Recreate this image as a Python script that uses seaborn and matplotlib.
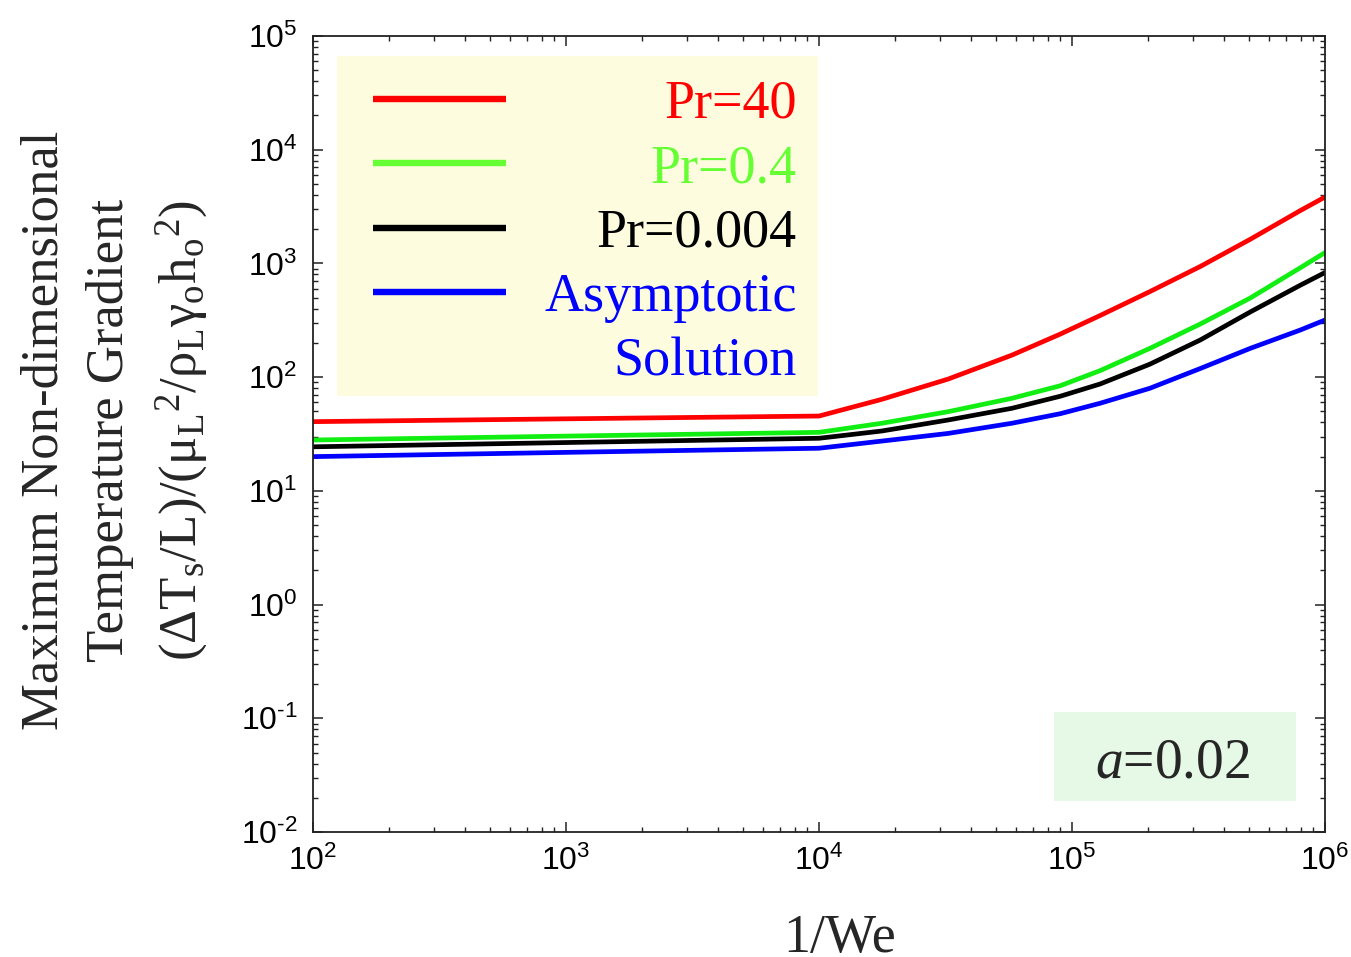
import numpy as np
import pandas as pd
import seaborn as sns
import matplotlib.pyplot as plt
from matplotlib.lines import Line2D
from matplotlib.patches import Rectangle
from matplotlib.ticker import LogLocator, FuncFormatter, NullFormatter

# values (log-log axes)
inv_we = [1e2, 1e3, 1e4, 1.77e4, 3.24e4, 5.78e4, 8.98e4, 1.29e5, 2.03e5, 3.21e5, 5.06e5, 7.96e5, 1e6]
pr_40 = [40.6, 43, 45.5, 63.8, 96.2, 156, 239, 348, 565, 939, 1629, 2905, 3837]
pr_04 = [28.0, 30.3, 32.7, 39.3, 49.7, 65.1, 84, 114, 179, 293, 496, 912, 1247]
pr_0004 = [24.4, 26.6, 29.0, 33.6, 42.0, 53.2, 67.9, 87, 130, 212, 374, 641, 832]
asymptotic = [20.0, 21.8, 23.7, 27.4, 32.0, 39.3, 47.7, 58.9, 79.8, 119, 179, 259, 318]

cases = ['Pr=40', 'Pr=0.4', 'Pr=0.004', 'Asymptotic']
legend_labels = ['Pr=40', 'Pr=0.4', 'Pr=0.004', 'Asymptotic', 'Solution']
line_colors = {'Pr=40': '#ff0000', 'Pr=0.4': '#11ee11', 'Pr=0.004': '#000000', 'Asymptotic': '#0000ff'}
legend_colors = ['#ff0000', '#66ff33', '#000000', '#0000ff', '#0000ff']

sns.set_theme(style='ticks')
plt.rcParams['font.family'] = ['Liberation Serif', 'DejaVu Serif']
plt.rcParams['mathtext.fontset'] = 'custom'
plt.rcParams['mathtext.rm'] = 'Liberation Serif'
plt.rcParams['mathtext.it'] = 'Liberation Serif:italic'

frames = []
for name, vals in zip(cases, [pr_40, pr_04, pr_0004, asymptotic]):
    frames.append(pd.DataFrame({'inv_we': inv_we, 'grad': vals, 'case': name}))
df = pd.concat(frames, ignore_index=True)

fig = plt.figure(figsize=(13.51, 9.57), dpi=100)
ax = fig.add_axes([0.2317, 0.1306, 0.7491, 0.8318])
ax.set_xscale('log')
ax.set_yscale('log')

sns.lineplot(data=df, x='inv_we', y='grad', hue='case', hue_order=cases,
             palette=line_colors, linewidth=3.4, legend=False, ax=ax)

ax.set_xlim(1e2, 1e6)
ax.set_ylim(1e-2, 1e5)


def pow_label(v, pos):
    e = int(round(np.log10(v)))
    s = str(e).replace('-', '\u2010')
    return r'$\mathregular{10^{%s}}$' % s


# ticks
for axis in [ax.xaxis, ax.yaxis]:
    axis.set_major_locator(LogLocator(base=10, numticks=20))
    axis.set_minor_locator(LogLocator(base=10, subs=np.arange(2, 10), numticks=20))
    axis.set_major_formatter(FuncFormatter(pow_label))
    axis.set_minor_formatter(NullFormatter())
ax.tick_params(which='both', direction='in', top=True, right=True, color='#222222',
               labelsize=23, labelfontfamily='Liberation Sans', labelcolor='black')
ax.tick_params(which='major', length=7.5, width=1.1)
ax.tick_params(which='minor', length=3.8, width=1.0)
ax.tick_params(axis='x', pad=10)
ax.tick_params(axis='y', pad=11)
for s in ax.spines.values():
    s.set_linewidth(1.3)
    s.set_color('#222222')

# axis labels
ax.set_xlabel('1/We', fontsize=39, va='top')
ax.xaxis.set_label_coords(0.5208, -0.102)
ax.set_ylabel('Maximum Non-dimensional\nTemperature Gradient\n'
              + r'$\mathregular{(ΔT_s/L)/(μ_L{}^2/ρ_Lγ_oh_o{}^2)}$',
              fontsize=38, linespacing=1.45)
ax.yaxis.set_label_coords(-0.102, 0.505)

# legend background and legend
ax.add_patch(Rectangle((0.0237, 0.5477), 0.4753, 0.4271, transform=ax.transAxes,
                       facecolor='#fdfcdf', edgecolor='none', zorder=0.5))
handles = [Line2D([], [], color=c, lw=4.6, solid_capstyle='butt') for c in legend_colors[:4]]
handles.append(Line2D([], [], color='none'))
leg = ax.legend(handles, legend_labels, loc='upper left', bbox_to_anchor=(0.0593, 0.946),
                borderaxespad=0, borderpad=0, frameon=False, fontsize=39,
                handlelength=2.455, handletextpad=0.5, labelspacing=0.26)
for t, c in zip(leg.get_texts(), legend_colors):
    t.set_color(c)

# right-align legend text
fig.canvas.draw()
renderer = fig.canvas.get_renderer()
dpi = fig.dpi
widths = [t.get_window_extent(renderer).width for t in leg.get_texts()]
hl_px = 2.455 * 39 * dpi / 72
items = []
for col in leg._legend_handle_box.get_children():
    items.extend(col.get_children())
for item, w in zip(items, widths):
    item.sep = (424 - hl_px - w) * 72 / dpi

# parameter box
ax.add_patch(Rectangle((0.7322, 0.0389), 0.2391, 0.1118, transform=ax.transAxes,
                       facecolor='#e6f9e6', edgecolor='none', zorder=0.5))
ax.text(0.8497, 0.0691, '$a$=0.02', transform=ax.transAxes, fontsize=40,
        ha='center', va='baseline')

fig.savefig('out.png', dpi=100)
